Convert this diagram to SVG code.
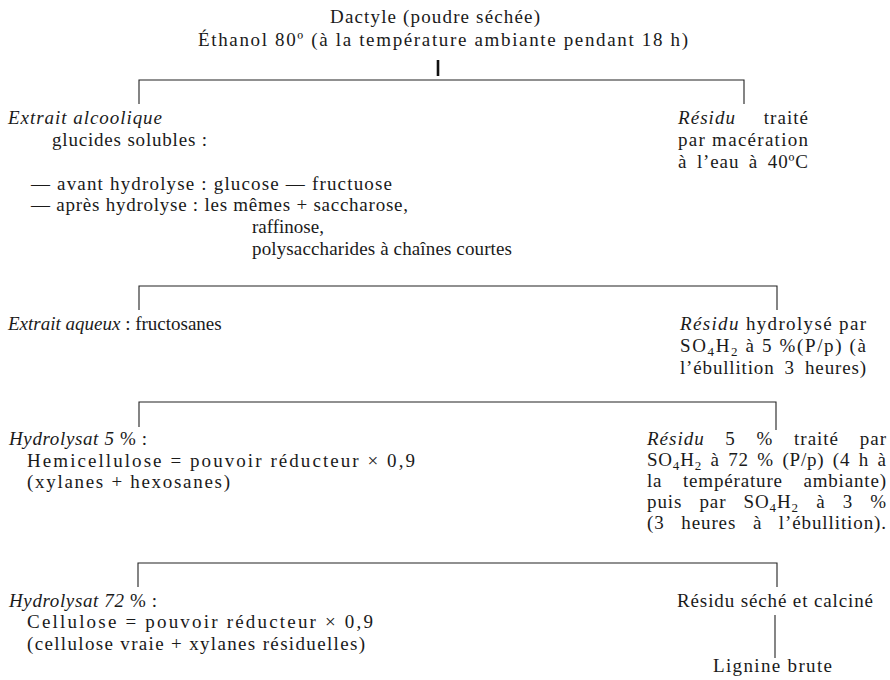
<svg xmlns="http://www.w3.org/2000/svg" width="890" height="680" viewBox="0 0 890 680">
<style>
text{font-family:"Liberation Serif","Times New Roman",serif;font-size:19px;fill:#1a1a1a}
.i{font-style:italic}
.sub{font-size:13px;baseline-shift:-4px}
.ln{stroke:#222;stroke-width:1.1;fill:none}
.bar{stroke:#111;stroke-width:2.6;fill:none}
</style>
<rect width="890" height="680" fill="#fff"/>
<g id="connectors">
<line class="bar" x1="438" y1="60" x2="438" y2="76"/>
<polyline class="ln" points="139,104 139,80 744,80 744,104"/>
<polyline class="ln" points="139,310 139,286 777,286 777,310"/>
<polyline class="ln" points="139,427 139,402 776,402 776,430"/>
<polyline class="ln" points="138,587 138,563 777,563 777,587"/>
<line class="ln" x1="775" y1="615" x2="775" y2="658"/>
</g>
<g id="source">
<text x="330" y="23" textLength="210" lengthAdjust="spacing">Dactyle (poudre séchée)</text>
<text x="198" y="46" textLength="490" lengthAdjust="spacing">Éthanol 80º (à la température ambiante pendant 18 h)</text>
</g>
<g id="extrait-alcoolique">
<text x="8" y="124" class="i" textLength="154" lengthAdjust="spacing">Extrait alcoolique</text>
<text x="52" y="146" textLength="155" lengthAdjust="spacing">glucides solubles :</text>
<text x="31" y="190" textLength="361" lengthAdjust="spacing">— avant hydrolyse : glucose — fructuose</text>
<text x="31" y="211" textLength="377" lengthAdjust="spacing">— après hydrolyse : les mêmes + saccharose,</text>
<text x="252" y="233">raffinose,</text>
<text x="252" y="255" textLength="260" lengthAdjust="spacing">polysaccharides à chaînes courtes</text>
</g>
<g id="residu-1">
<text x="678" y="124" textLength="130" lengthAdjust="spacing" word-spacing="22"><tspan class="i">Résidu</tspan> traité</text>
<text x="678" y="146" textLength="130" lengthAdjust="spacing">par macération</text>
<text x="678" y="168" textLength="130" lengthAdjust="spacing" word-spacing="4">à l’eau à 40ºC</text>
</g>
<g id="extrait-aqueux">
<text x="8" y="330"><tspan class="i">Extrait aqueux</tspan> : fructosanes</text>
</g>
<g id="residu-2">
<text x="680" y="330" textLength="186" lengthAdjust="spacing"><tspan class="i">Résidu</tspan> hydrolysé par</text>
<text x="680" y="352" textLength="186" lengthAdjust="spacing">SO<tspan class="sub">4</tspan>H<tspan class="sub">2</tspan> à 5 %(P/p) (à</text>
<text x="680" y="374" textLength="186" lengthAdjust="spacing" word-spacing="4.5">l’ébullition 3 heures)</text>
</g>
<g id="hydrolysat-5">
<text x="9" y="445" textLength="138" lengthAdjust="spacing"><tspan class="i">Hydrolysat 5</tspan> % :</text>
<text x="27" y="467" textLength="388" lengthAdjust="spacing">Hemicellulose = pouvoir réducteur × 0,9</text>
<text x="27" y="488" textLength="203" lengthAdjust="spacing">(xylanes + hexosanes)</text>
</g>
<g id="residu-3">
<text x="647" y="445" textLength="239" lengthAdjust="spacing" word-spacing="15"><tspan class="i">Résidu</tspan> 5 % traité par</text>
<text x="647" y="466" textLength="239" lengthAdjust="spacing" word-spacing="3">SO<tspan class="sub">4</tspan>H<tspan class="sub">2</tspan> à 72 % (P/p) (4 h à</text>
<text x="647" y="487" textLength="239" lengthAdjust="spacing" word-spacing="15">la température ambiante)</text>
<text x="647" y="508" textLength="239" lengthAdjust="spacing" word-spacing="11.5">puis par SO<tspan class="sub">4</tspan>H<tspan class="sub">2</tspan> à 3 %</text>
<text x="647" y="529" textLength="239" lengthAdjust="spacing" word-spacing="11">(3 heures à l’ébullition).</text>
</g>
<g id="hydrolysat-72">
<text x="9" y="607" textLength="148" lengthAdjust="spacing"><tspan class="i">Hydrolysat 72</tspan>  % :</text>
<text x="27" y="628" textLength="346" lengthAdjust="spacing">Cellulose = pouvoir réducteur × 0,9</text>
<text x="27" y="650" textLength="338" lengthAdjust="spacing">(cellulose vraie + xylanes résiduelles)</text>
</g>
<g id="residu-final">
<text x="677" y="607" textLength="196" lengthAdjust="spacing">Résidu séché et calciné</text>
</g>
<g id="lignine">
<text x="713" y="672" textLength="119" lengthAdjust="spacing">Lignine brute</text>
</g>
</svg>
